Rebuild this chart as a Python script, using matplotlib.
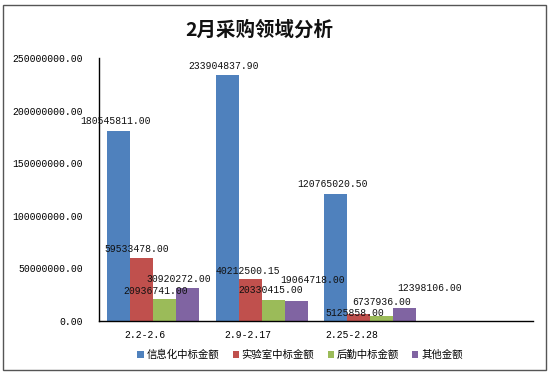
import matplotlib
matplotlib.use("Agg")
import matplotlib.pyplot as plt
from matplotlib.patches import Rectangle, Patch
from matplotlib.transforms import ScaledTranslation
import numpy as np

plt.rcParams['font.family'] = ['Noto Sans CJK SC', 'DejaVu Sans']

title = "2月采购领域分析"
categories = ["2.2-2.6", "2.9-2.17", "2.25-2.28"]
series_names = ["信息化中标金额", "实验室中标金额", "后勤中标金额", "其他金额"]
info_vals = [180545811.00, 233904837.90, 120765020.50]
lab_vals = [59533478.00, 40212500.15, 6737936.00]
logi_vals = [20936741.00, 20330415.00, 5125858.00]
other_vals = [30920272.00, 19064718.00, 12398106.00]
yticks = [0, 50000000, 100000000, 150000000, 200000000, 250000000]

colors = ["#4F81BD", "#C0504D", "#9BBB59", "#8064A2"]
# label offsets in pixels (styling), per series per category
label_offsets = [
    [(-3, 10), (-4, 9), (-3, 10)],
    [(-5, 9), (-2, 8), (23, 12)],
    [(-9, 8), (-3, 10), (-27, 3)],
    [(-9, 9), (16, 21), (25, 20)],
]
xtick_shift_px = [-8, -14, -18]

W, H = 550, 374
fig = plt.figure(figsize=(W / 100, H / 100), dpi=100)
fig.patch.set_facecolor("white")

# outer chart border
fig.patches.append(Rectangle((3 / W, 1 - 370 / H), 543 / W, 365 / H,
                             transform=fig.transFigure, fill=False,
                             edgecolor="#555555", linewidth=1.0))

ax = fig.add_axes([99 / W, 1 - 321 / H, (533 - 99) / W, (321 - 58) / H])
ax.set_facecolor("white")

series = [info_vals, lab_vals, logi_vals, other_vals]
x = np.arange(len(categories))
bw = 0.212
mono = "Liberation Mono"
fs = 7.0
for i, (vals, c) in enumerate(zip(series, colors)):
    xs = x + (i - 1.5) * bw
    ax.bar(xs, vals, width=bw, color=c, edgecolor="none", zorder=2)
    for j, (xx, v) in enumerate(zip(xs, vals)):
        dx, dy = label_offsets[i][j]
        ax.annotate(f"{v:.2f}", (xx, v), xytext=(dx, dy), textcoords="offset pixels",
                    ha="center", va="center", fontsize=fs, family=mono,
                    color="#111111", zorder=3)

ax.set_xlim(-0.5, 3.5)
ax.set_ylim(0, 250000000)
ax.set_yticks(yticks)
ax.set_yticklabels([f"{t:.2f}" for t in yticks], family=mono, fontsize=fs)
ax.set_xticks(x)
ax.set_xticklabels(categories, family=mono, fontsize=fs)
ax.tick_params(axis="y", length=0, pad=11.5)
ax.tick_params(axis="x", length=0, pad=6.5)
for lbl, sh in zip(ax.get_xticklabels(), xtick_shift_px):
    lbl.set_transform(lbl.get_transform() + ScaledTranslation(sh / 100, 0, fig.dpi_scale_trans))
for s in ["top", "right"]:
    ax.spines[s].set_visible(False)
for s in ["left", "bottom"]:
    ax.spines[s].set_color("black")
    ax.spines[s].set_linewidth(1.0)

fig.text(259 / W, 1 - 30 / H, title, ha="center", va="center",
         fontsize=14, fontweight="bold", color="#111111")

handles = [Patch(facecolor=c, edgecolor="none") for c in colors]
fig.legend(handles, series_names, loc="center", ncol=4,
           bbox_to_anchor=(300 / W, 1 - 355 / H), frameon=False,
           fontsize=7.5, handlelength=0.6, handleheight=0.6,
           handletextpad=0.25, columnspacing=1.3, borderpad=0)

fig.savefig("out.png", dpi=100)
